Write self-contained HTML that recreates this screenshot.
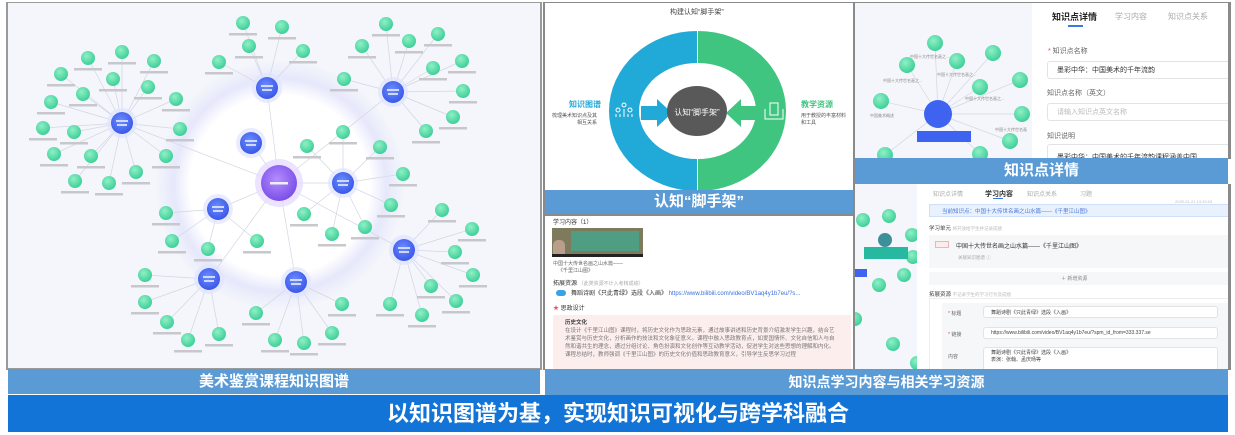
<!DOCTYPE html>
<html><head><meta charset="utf-8"><style>
*{margin:0;padding:0;box-sizing:border-box}
body{width:1235px;height:435px;background:#fff;position:relative;overflow:hidden;font-family:"Liberation Sans","Noto Sans CJK SC",sans-serif}
.a{position:absolute}
.bar{position:absolute;background:#5b9bd5;color:#fff;text-align:center;font-weight:bold}
.t{position:absolute;white-space:nowrap;color:#666}
.inp{position:absolute;border:1px solid #e3e3e3;border-radius:3px;background:#fff}
</style></head><body>
<!-- left panel -->
<div class="a" style="left:6px;top:2px;width:536px;height:368px;background:#9a9a9a"></div>
<div class="a" style="left:8px;top:3px;width:532px;height:365px;background:#f4f6fb;overflow:hidden">
<svg width="532" height="365" viewBox="8 3 532 365" style="position:absolute;left:0;top:0">
<defs>
<radialGradient id="halo" cx="50%" cy="50%" r="50%"><stop offset="0.72" stop-color="#fff"/><stop offset="0.85" stop-color="#e6e8fb"/><stop offset="1" stop-color="#f4f6fb"/></radialGradient>
<radialGradient id="gn" cx="40%" cy="35%" r="65%"><stop offset="0" stop-color="#8ff0c6"/><stop offset="1" stop-color="#3fcf98"/></radialGradient>
<radialGradient id="bl" cx="45%" cy="40%" r="60%"><stop offset="0" stop-color="#6d8dff"/><stop offset="1" stop-color="#3a58e8"/></radialGradient>
<radialGradient id="pp" cx="45%" cy="40%" r="60%"><stop offset="0" stop-color="#b48cff"/><stop offset="1" stop-color="#7b4fe8"/></radialGradient>
</defs>
<circle cx="280" cy="185" r="125" fill="url(#halo)"/>
<g stroke="#d2d6e4" stroke-width="0.7" fill="none" id="lines"></g>
<g id="g"></g>
</svg>
</div>
<div class="bar" style="left:8px;top:369px;width:532px;height:25px;font-size:15px;line-height:25px">美术鉴赏课程知识图谱</div>

<!-- middle top -->
<div class="a" style="left:543px;top:2px;width:312px;height:212px;background:#8a8a8a"></div>
<div class="a" style="left:545px;top:3px;width:308px;height:188px;background:#fff">
<div class="t" style="left:125px;top:4px;font-size:7px;color:#444">构建认知“脚手架”</div>
<svg width="308" height="188" style="position:absolute;left:0;top:0">
<path d="M152 28 A88 80 0 0 0 152 188 L152 156 A58 48 0 0 1 152 60 Z" fill="#21a9d8"/>
<path d="M153 28 A88 80 0 0 1 153 188 L153 156 A58 48 0 0 0 153 60 Z" fill="#3fc57f"/>
<polygon points="96,103 112,103 112,96 127,110 112,124 112,117 96,117" fill="#21a9d8"/>
<polygon points="212,103 196,103 196,96 181,110 196,124 196,117 212,117" fill="#3fc57f"/>
<ellipse cx="152" cy="108" rx="30" ry="25" fill="#595959"/>
<text x="152" y="112" font-size="8" fill="#fff" text-anchor="middle" font-family="Liberation Sans,Noto Sans CJK SC,sans-serif">认知“脚手架”</text>
<g stroke="#fff" stroke-width="1" fill="none"><circle cx="79" cy="102" r="2"/><circle cx="73" cy="107" r="2"/><circle cx="85" cy="107" r="2"/><path d="M71 114v-3M75 114v-3M79 114v-8M83 114v-3M87 114v-3"/></g>
<g stroke="#fff" stroke-width="1" fill="none"><rect x="225" y="100" width="8" height="12"/><path d="M220 106v10h18v-10"/></g>
<text x="24" y="104" font-size="8" fill="#21a9d8" font-weight="bold" font-family="Liberation Sans,Noto Sans CJK SC,sans-serif">知识图谱</text>
<text x="7" y="114" font-size="5" fill="#555" font-family="Liberation Sans,Noto Sans CJK SC,sans-serif">梳理美术知识点及其</text>
<text x="32" y="121" font-size="5" fill="#555" font-family="Liberation Sans,Noto Sans CJK SC,sans-serif">相互关系</text>
<text x="256" y="104" font-size="8" fill="#3fc57f" font-weight="bold" font-family="Liberation Sans,Noto Sans CJK SC,sans-serif">教学资源</text>
<text x="256" y="114" font-size="5" fill="#555" font-family="Liberation Sans,Noto Sans CJK SC,sans-serif">用于教授的丰富材料</text>
<text x="256" y="121" font-size="5" fill="#555" font-family="Liberation Sans,Noto Sans CJK SC,sans-serif">和工具</text>
</svg></div>
<div class="bar" style="left:545px;top:190px;width:308px;height:24px;font-size:15px;line-height:24px">认知“脚手架”</div>

<!-- middle bottom -->
<div class="a" style="left:543px;top:214px;width:312px;height:156px;background:#8a8a8a"></div>
<div class="a" style="left:545px;top:216px;width:308px;height:153px;background:#fff;overflow:hidden">
<div class="t" style="left:8px;top:1px;font-size:6px;color:#333">学习内容（1）</div>
<div class="a" style="left:7px;top:12px;width:91px;height:29px;background:#7e7a5c"></div>
<div class="a" style="left:26px;top:15px;width:68px;height:20px;background:#4f9d83"></div>
<div class="a" style="left:8px;top:24px;width:12px;height:15px;background:#b99e8c;border-radius:5px 5px 0 0"></div>
<div class="a" style="left:7px;top:38px;width:91px;height:3px;background:#222"></div>
<div class="t" style="left:8px;top:44px;font-size:5px">中国十大传世名画之山水篇——</div>
<div class="t" style="left:13px;top:51px;font-size:5px">《千里江山图》</div>
<div class="t" style="left:8px;top:62px;font-size:6px;color:#333">拓展资源 <span style="color:#aaa;font-size:5px">（此类资源不计入考核成绩）</span></div>
<div class="a" style="left:11px;top:74px;width:10px;height:6px;background:#3aa0e8;border-radius:3px"></div>
<div class="t" style="left:26px;top:72px;font-size:6px;color:#333">舞蹈诗剧《只此青绿》选段《入画》 <span style="color:#3e6fe0">https://www.bilibili.com/video/BV1aq4y1b7eu/?s...</span></div>
<div class="t" style="left:8px;top:87px;font-size:6px;color:#333"><span style="color:#e55">★</span> 思政设计</div>
<div class="a" style="left:8px;top:99px;width:298px;height:56px;background:#fdeeee;font-size:5.5px;color:#777;padding:4px 12px;line-height:8px;white-space:normal">
<b style="color:#444">历史文化</b><br>在设计《千里江山图》课程时，将历史文化作为思政元素，通过故事讲述和历史背景介绍激发学生兴趣，结合艺术鉴赏与历史文化，分析画作的技法和文化象征意义。课程中融入思政教育点，如爱国情怀、文化自信和人与自然和谐共生的理念，通过分组讨论、角色扮演和文化创作等互动教学活动，促进学生对这些思想的理解和内化。课程总结时，教师强调《千里江山图》的历史文化价值和思政教育意义，引导学生反思学习过程</div>
</div>

<!-- right top -->
<div class="a" style="left:853px;top:2px;width:378px;height:157px;background:#8a8a8a"></div>
<div class="a" style="left:855px;top:3px;width:373px;height:156px;background:#fff;overflow:hidden">
<div class="a" style="left:0;top:0;width:177px;height:156px;background:#f4f6fb">
<svg width="177" height="156">
<g stroke="#d2d6e4" stroke-width="0.7">
<path d="M83 111L80 40M83 111L52 62M83 111L102 58M83 111L138 50M83 111L125 84M83 111L165 77M83 111L26 98M83 111L167 111M83 111L155 138M83 111L125 151M83 111L30 152"/></g>
<g fill="url(#gn)"><circle cx="80" cy="40" r="8"/><circle cx="52" cy="62" r="8"/><circle cx="102" cy="58" r="8"/><circle cx="138" cy="50" r="8"/><circle cx="125" cy="84" r="8"/><circle cx="165" cy="77" r="8"/><circle cx="26" cy="98" r="8"/><circle cx="167" cy="111" r="8"/><circle cx="155" cy="138" r="8"/><circle cx="125" cy="151" r="8"/><circle cx="30" cy="152" r="8"/></g>
<circle cx="83" cy="111" r="14" fill="#3d63f0"/>
<rect x="62" y="128" width="54" height="11" fill="#3d63f0"/>
<g font-size="4" fill="#888" font-family="Liberation Sans,Noto Sans CJK SC,sans-serif"><text x="55" y="55">中国十大传世名画之...</text><text x="28" y="79">中国十大传世名画之...</text><text x="82" y="73">中国十大传世名画之...</text><text x="110" y="97">中国十大传世名画之...</text><text x="15" y="114">中国美术概述</text><text x="140" y="128">中国十大传世名画</text></g>
</svg></div>
<div class="t" style="left:197px;top:7px;font-size:9px;color:#222;font-weight:bold">知识点详情</div>
<div class="t" style="left:260px;top:8px;font-size:8px;color:#aaa">学习内容</div>
<div class="t" style="left:313px;top:8px;font-size:8px;color:#aaa">知识点关系</div>
<div class="a" style="left:213px;top:22px;width:15px;height:2px;background:#3a78e8"></div>
<div class="t" style="left:193px;top:43px;font-size:7px"><span style="color:#e44">*</span> 知识点名称</div>
<div class="inp" style="left:192px;top:58px;width:190px;height:18px"></div>
<div class="t" style="left:202px;top:62px;font-size:7px;color:#333">墨彩中华：中国美术的千年流韵</div>
<div class="t" style="left:192px;top:85px;font-size:7px">知识点名称（英文）</div>
<div class="inp" style="left:192px;top:100px;width:190px;height:18px"></div>
<div class="t" style="left:202px;top:104px;font-size:7px;color:#bbb">请输入知识点英文名称</div>
<div class="t" style="left:192px;top:128px;font-size:7px">知识说明</div>
<div class="inp" style="left:192px;top:141px;width:190px;height:30px"></div>
<div class="t" style="left:202px;top:149px;font-size:7px;color:#333">墨彩中华：中国美术的千年流韵课程涵盖中国</div>
</div>
<div class="bar" style="left:855px;top:158px;width:373px;height:26px;font-size:15px;line-height:26px">知识点详情</div>

<!-- right bottom -->
<div class="a" style="left:853px;top:184px;width:378px;height:186px;background:#8a8a8a"></div>
<div class="a" style="left:855px;top:184px;width:373px;height:185px;background:#fff;overflow:hidden">
<div class="a" style="left:0;top:0;width:62px;height:185px;background:#f4f6fb">
<svg width="62" height="185"><g fill="url(#gn)"><circle cx="8" cy="36" r="7"/><circle cx="34" cy="32" r="7"/><circle cx="57" cy="51" r="7"/><circle cx="58" cy="73" r="7"/><circle cx="49" cy="91" r="7"/><circle cx="24" cy="101" r="7"/><circle cx="0" cy="135" r="7"/><circle cx="38" cy="160" r="7"/><circle cx="62" cy="179" r="7"/></g>
<circle cx="30" cy="56" r="7" fill="#3d8f99"/><rect x="9" y="63" width="44" height="12" fill="#27b9a0"/><rect x="0" y="85" width="12" height="8" fill="#3d63f0"/></svg></div>
<div class="t" style="left:78px;top:5px;font-size:6px;color:#aaa">知识点详情</div>
<div class="t" style="left:130px;top:5px;font-size:7px;color:#333;font-weight:bold">学习内容</div>
<div class="t" style="left:172px;top:5px;font-size:6px;color:#aaa">知识点关系</div>
<div class="t" style="left:225px;top:5px;font-size:6px;color:#aaa">习题</div>
<div class="a" style="left:138px;top:14px;width:10px;height:1px;background:#3a78e8"></div>
<div class="t" style="left:320px;top:15px;font-size:4px;color:#bbb">2025-01-21 13:33:03</div>
<div class="a" style="left:74px;top:20px;width:300px;height:13px;background:#e9f1fd;border:1px solid #cfe0fa"></div>
<div class="t" style="left:87px;top:23px;font-size:5.5px;color:#4a78d8">当前知识点：中国十大传世名画之山水篇——《千里江山图》</div>
<div class="t" style="left:74px;top:40px;font-size:5.5px;color:#444">学习单元 <span style="color:#bbb;font-size:4.5px">将开放给学生并记录成绩</span></div>
<div class="a" style="left:74px;top:51px;width:300px;height:33px;background:#f6f7f9"></div>
<div class="a" style="left:80px;top:57px;width:14px;height:7px;border:1px solid #f3b3b3;background:#fdecec"></div>
<div class="t" style="left:101px;top:57px;font-size:6px;color:#333">中国十大传世名画之山水篇——《千里江山图》</div>
<div class="t" style="left:103px;top:71px;font-size:4.5px;color:#aaa">关联知识图谱 ⓘ</div>
<div class="a" style="left:74px;top:88px;width:300px;height:13px;background:#f6f7f9"></div>
<div class="t" style="left:206px;top:91px;font-size:5px;color:#888">＋ 新增资源</div>
<div class="t" style="left:74px;top:106px;font-size:5.5px;color:#444">拓展资源 <span style="color:#bbb;font-size:4.5px">不记录学生的学习行为及成绩</span></div>
<div class="a" style="left:74px;top:114px;width:300px;height:75px;border:1px solid #eee"></div>
<div class="a" style="left:87px;top:119px;width:287px;height:70px;background:#f6f7f9"></div>
<div class="t" style="left:93px;top:126px;font-size:5px"><span style="color:#e44">*</span> 标题</div>
<div class="inp" style="left:128px;top:122px;width:235px;height:12px"></div>
<div class="t" style="left:136px;top:125px;font-size:5px;color:#444">舞蹈诗剧《只此青绿》选段《入画》</div>
<div class="t" style="left:93px;top:147px;font-size:5px"><span style="color:#e44">*</span> 链接</div>
<div class="inp" style="left:128px;top:143px;width:235px;height:12px"></div>
<div class="t" style="left:136px;top:146px;font-size:5px;color:#444">https://www.bilibili.com/video/BV1aq4y1b7eu/?spm_id_from=333.337.se</div>
<div class="t" style="left:93px;top:169px;font-size:5px">内容</div>
<div class="inp" style="left:128px;top:163px;width:235px;height:25px"></div>
<div class="t" style="left:136px;top:166px;font-size:5px;color:#444;line-height:7px">舞蹈诗剧《只此青绿》选段《入画》<br>表演：张翰、孟庆旸等</div>
</div>
<div class="bar" style="left:545px;top:369px;width:683px;height:26px;font-size:14px;line-height:26px">知识点学习内容与相关学习资源</div>

<!-- bottom banner -->
<div class="bar" style="left:8px;top:395px;width:1220px;height:37px;background:#1174d6;font-size:22px;line-height:37px">以知识图谱为基，实现知识可视化与跨学科融合</div>

<script>
var hubs=[[267,88,[[243,23],[282,27],[249,46],[303,51],[219,62]]],
[393,92,[[386,24],[438,34],[362,46],[409,41],[462,61],[433,68],[344,79],[463,91],[453,117],[426,131]]],
[122,123,[[122,52],[88,58],[154,61],[61,74],[113,79],[148,87],[83,94],[176,99],[51,102],[43,128],[74,132],[180,129],[54,154],[91,156],[166,156],[136,172],[75,181],[109,183]]],
[251,143,[]],
[343,183,[[343,132],[307,146],[380,147],[403,174],[391,205],[304,214],[365,227],[332,234]]],
[218,209,[[166,213],[172,241],[208,249],[257,241]]],
[404,250,[[442,210],[472,229],[455,252],[473,275],[431,286],[456,301],[390,304],[422,315]]],
[209,279,[[145,275],[145,302],[167,322],[188,340],[219,334]]],
[296,282,[[342,304],[256,313],[332,333],[275,340],[304,343]]]];
var L='',G='';
hubs.forEach(function(h){L+='<line x1="279" y1="183" x2="'+h[0]+'" y2="'+h[1]+'"/>';
h[2].forEach(function(p){L+='<line x1="'+h[0]+'" y1="'+h[1]+'" x2="'+p[0]+'" y2="'+p[1]+'"/>';
G+='<circle cx="'+p[0]+'" cy="'+p[1]+'" r="7" fill="url(#gn)"/><rect x="'+(p[0]-14)+'" y="'+(p[1]+10)+'" width="28" height="2.5" fill="#c8c8cc"/>';});});
hubs.forEach(function(h){G+='<circle cx="'+h[0]+'" cy="'+h[1]+'" r="15" fill="#dfe4ff" opacity="0.7"/><circle cx="'+h[0]+'" cy="'+h[1]+'" r="11" fill="url(#bl)"/><rect x="'+(h[0]-6)+'" y="'+(h[1]-3)+'" width="12" height="2" fill="#cfd8ff"/><rect x="'+(h[0]-5)+'" y="'+(h[1]+1)+'" width="10" height="2" fill="#cfd8ff"/>';});
G+='<circle cx="279" cy="183" r="24" fill="#e6dcff" opacity="0.8"/><circle cx="279" cy="183" r="18" fill="url(#pp)"/><rect x="270" y="182" width="18" height="2.5" fill="#eee"/>';
document.getElementById('lines').innerHTML=L;document.getElementById('g').innerHTML=G;
</script>
</body></html>
